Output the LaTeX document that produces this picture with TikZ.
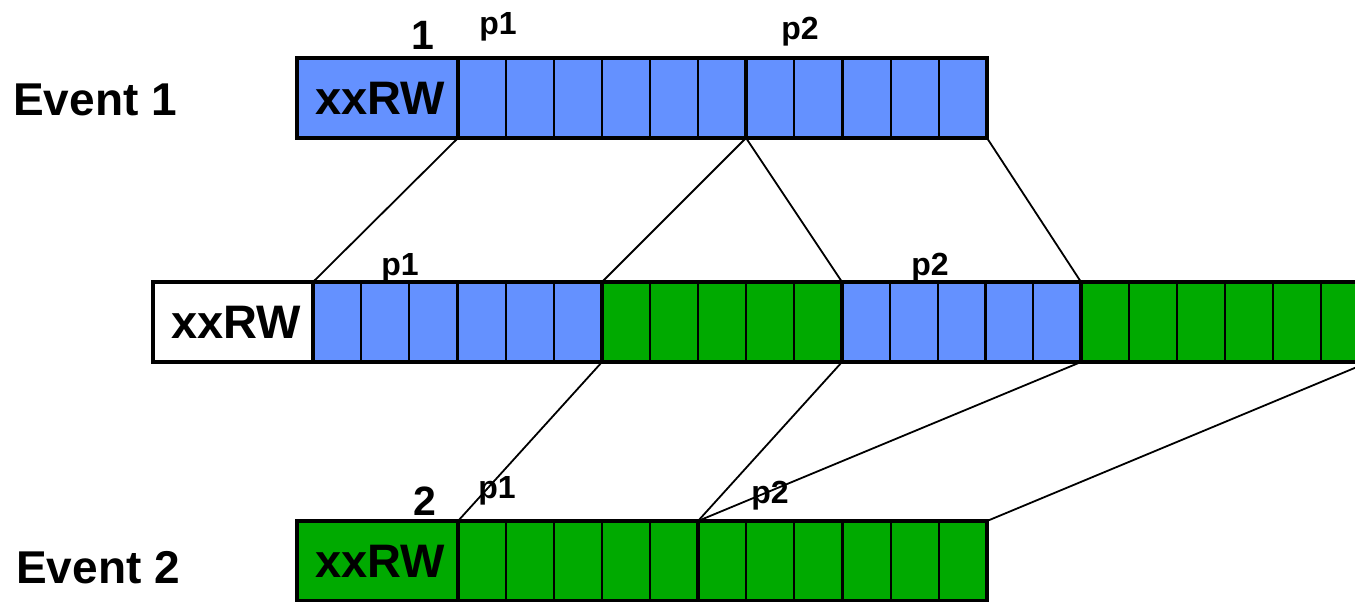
\documentclass[tikz,border=0pt]{standalone}
\usepackage{fontspec}
\setmainfont{Liberation Sans}
\usetikzlibrary{calc}
\definecolor{evblue}{RGB}{100,145,255}
\definecolor{evgreen}{RGB}{0,170,0}

\begin{document}
\begin{tikzpicture}[x=1pt,y=-1pt,
    seg/.style={draw, line width=4.5pt, inner sep=0pt, outer sep=0pt,
      minimum height=80pt, anchor=north west,
      font=\fontsize{47}{50}\selectfont\bfseries},
    divider/.style={line width=2.2pt},
    link/.style={line width=1.8pt},
    evtext/.style={anchor=base, font=\fontsize{46}{50}\selectfont\bfseries},
    numtext/.style={anchor=base, font=\fontsize{41}{44}\selectfont\bfseries},
    ptext/.style={anchor=base, font=\fontsize{32}{34}\selectfont\bfseries}]
  \useasboundingbox (0,0) rectangle (1355,602);
  % Event 1 row
  \node[seg, fill=evblue, minimum width=161pt] (h1) at (297,58) {\hspace*{6pt}xxRW};
  \node[seg, fill=evblue, minimum width=288pt] (e1a) at (458,58) {};
  \node[seg, fill=evblue, minimum width=241pt] (e1b) at (746,58) {};
  % merged row
  \node[seg, fill=white, minimum width=160pt] (h2) at (153,282) {\hspace*{6pt}xxRW};
  \node[seg, fill=evblue, minimum width=289pt] (m1) at (313,282) {};
  \node[seg, fill=evgreen, minimum width=240pt] (m2) at (602,282) {};
  \node[seg, fill=evblue, minimum width=239pt] (m3) at (842,282) {};
  \node[seg, fill=evgreen, minimum width=288pt] (m4) at (1081,282) {};
  % Event 2 row
  \node[seg, fill=evgreen, minimum width=161pt] (h3) at (297,521) {\hspace*{6pt}xxRW};
  \node[seg, fill=evgreen, minimum width=240pt] (b1) at (458,521) {};
  \node[seg, fill=evgreen, minimum width=289pt] (b2) at (698,521) {};
  % cell dividers
  \foreach \s/\n/\m in {e1a/6/5, e1b/5/4, m1/6/5, m2/5/4, m3/5/4, m4/6/5, b1/5/4, b2/6/5}
    \foreach \k in {1,...,\m}
      \draw[divider] ($(\s.north west)!\k/\n!(\s.north east)$) -- ($(\s.south west)!\k/\n!(\s.south east)$);
  % labels
  \node[evtext] (ev1) at (95,115) {Event 1};
  \node[evtext] (ev2) at (98,583) {Event 2};
  \node[numtext] (num1) at (423,50) {1};
  \node[numtext] (num2) at (425,515) {2};
  \node[ptext] (lp1a) at (498,35) {p1};
  \node[ptext] (lp2a) at (800,40) {p2};
  \node[ptext] (lp1m) at (400,275) {p1};
  \node[ptext] (lp2m) at (930,275) {p2};
  \node[ptext] (lp1b) at (497,498) {p1};
  \node[ptext] (lp2b) at (770,503) {p2};
  % connectors
  \draw[link] (h1.south east) -- (m1.north west);
  \draw[link] (e1b.south west) -- (m2.north west);
  \draw[link] (e1b.south west) -- (m3.north west);
  \draw[link] (e1b.south east) -- (m4.north west);
  \draw[link] (m2.south west) -- (b1.north west);
  \draw[link] (m3.south west) -- (b2.north west);
  \draw[link] (m4.south west) -- (b2.north west);
  \draw[link] (m4.south east) -- (b2.north east);
\end{tikzpicture}
\end{document}
